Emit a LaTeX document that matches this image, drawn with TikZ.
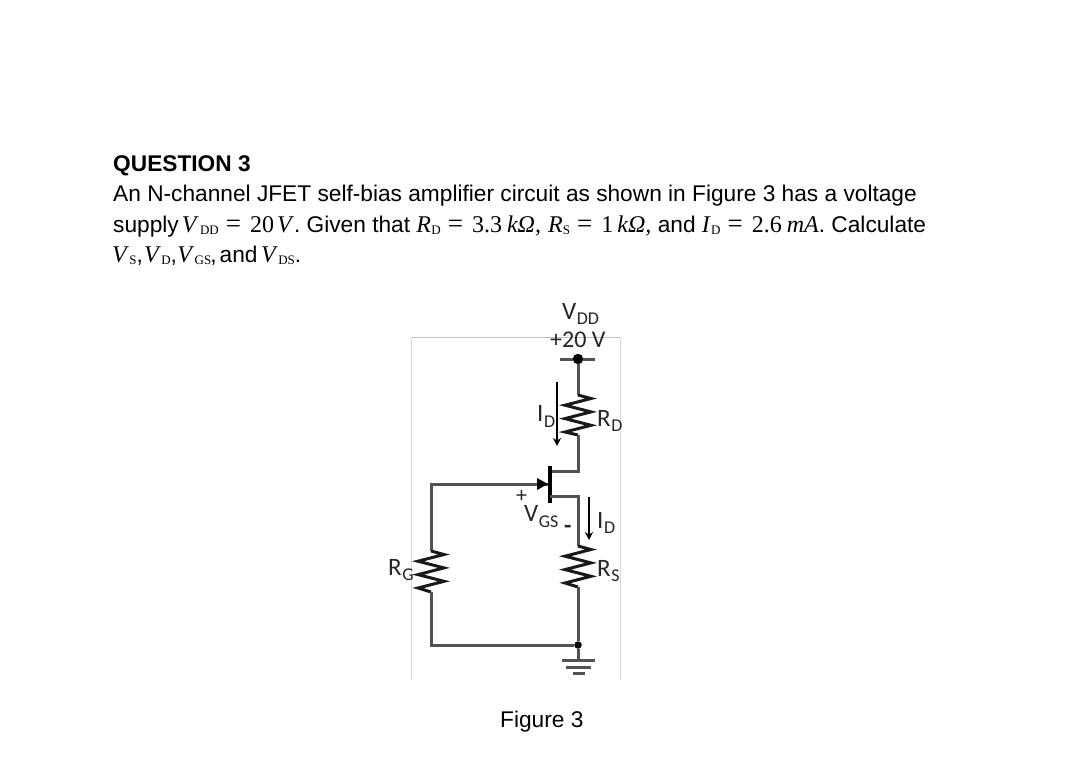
\documentclass[tikz,border=0pt]{standalone}
\usepackage{fontspec}
\setmainfont{Liberation Sans}
\newfontfamily\calfont{Carlito}
\newfontfamily\qfont{Liberation Serif}
\usetikzlibrary{arrows.meta}
\newcommand{\qv}[2]{{\qfont\fontsize{24}{24}\selectfont\textit{#1}\kern0.3pt\lower2.5pt\hbox{\fontsize{13}{13}\selectfont #2}}}
\newcommand{\qn}[1]{{\qfont\fontsize{24}{24}\selectfont #1}}
\newcommand{\qi}[1]{{\qfont\fontsize{24}{24}\selectfont\textit{#1}}}
\newcommand{\qe}{\kern7pt{\qfont\fontsize{27}{27}\selectfont =}\kern9pt}
\newcommand{\lb}[2]{#1\kern0.5pt\lower5.5pt\hbox{\fontsize{18}{18}\selectfont #2}}
\newcommand{\zres}[2]{\draw[zigres] (#1) -- ++(13,3.5) -- ++(-26,6.7) -- ++(26,6.7) -- ++(-26,6.7) -- ++(26,6.7) -- ++(-26,6.7) -- (#2);}
\tikzset{
  qline/.style={anchor=base west,inner sep=0pt,font=\fontsize{22.7}{24}\selectfont},
  lbl/.style={anchor=base west,inner sep=0pt,font=\calfont\fontsize{25}{25}\selectfont,text=black!85},
  wire/.style={draw=black!68,line width=3pt},
  zigres/.style={draw=black!90,line width=3pt,line join=miter},
  frameline/.style={draw=black!15,line width=1pt},
  idarrow/.style={draw=black,line width=2.2pt,-{Stealth[length=8pt,width=8pt]}},
  dotn/.style={circle,fill=black,inner sep=0pt,minimum size=#1}
}
\begin{document}
\begin{tikzpicture}[x=1pt,y=-1pt]
  \useasboundingbox (0,0) rectangle (1080,761);
  \fill[white] (0,0) rectangle (1080,761);

  % question text
  \node[qline,font=\bfseries\fontsize{22.7}{24}\selectfont] (title) at (113,171) {QUESTION 3};
  \node[qline] (line1) at (113,201) {An N-channel JFET self-bias amplifier circuit as shown in Figure 3 has a voltage};
  \node[qline] (line2) at (113,232) {supply\kern3pt\qv{V}{\kern1pt DD}\qe\qn{20}\kern3pt\qi{V}. Given that \qv{R}{D}\qe\qn{3.3}\kern5pt\qi{kΩ,}\kern7pt\qv{R}{S}\qe\qn{1}\kern4pt\qi{kΩ,} and \qv{I}{D}\qe\qn{2.6}\kern5pt\qi{mA}. Calculate};
  \node[qline] (line3) at (112,262) {\qv{V}{S},\kern1pt\qv{V}{D},\kern0.5pt\qv{V}{GS}\kern-1pt,\kern3pt and\kern3.5pt\qv{V}{DS}.};
  \node[qline] (fig) at (500,727) {Figure 3};

  % frame of the picture
  \draw[frameline,draw=black!25] (411,337) -- (620,337);
  \draw[frameline] (411,337) -- (411,680);
  \draw[frameline] (620,337) -- (620,680);

  \coordinate (bar1) at (560,359);
  \coordinate (bar2) at (595,359);
  \node[dotn=10.5pt] (vdd) at (578,359) {};
  \coordinate (rdtop) at (578,395);
  \coordinate (rdbot) at (578,435);
  \coordinate (dr) at (578,471);
  \coordinate (drg) at (550,471);
  \coordinate (gt) at (550,466);
  \coordinate (gb) at (550,503);
  \coordinate (gin) at (548,484);
  \coordinate (gl) at (431,484);
  \coordinate (sr) at (578,496);
  \coordinate (srg) at (550,496);
  \coordinate (rstop) at (578,546);
  \coordinate (rsbot) at (578,587);
  \coordinate (rgtop) at (431,551);
  \coordinate (rgbot) at (431,592);
  \node[dotn=7.5pt] (gnd) at (578,645) {};
  \coordinate (gndl) at (431,645);
  \coordinate (g1) at (578,660);

  \draw[wire] (bar1) -- (vdd);
  \draw[wire] (vdd) -- (bar2);
  \draw[wire] (vdd) -- (rdtop);
  \zres{rdtop}{rdbot}
  \draw[wire] (rdbot) -- (dr) -- (drg);
  \draw[draw=black,line width=3.6pt] (gt) -- (gb);
  \draw[wire] (srg) -- (sr) -- (rstop);
  \zres{rstop}{rsbot}
  \draw[wire] (rsbot) -- (gnd);
  \draw[wire] (gin) -- (gl) -- (rgtop);
  \zres{rgtop}{rgbot}
  \draw[wire] (rgbot) -- (gndl) -- (gnd);
  \draw[wire] (gnd) -- (g1);
  \fill[black] (gin) -- ++(-11,-6) -- ++(0,12) -- cycle;

  % ground bars
  \draw[wire] (562,660) -- (595,660);
  \draw[wire] (566,667) -- (591,667);
  \draw[wire] (573,673) -- (585,673);

  \coordinate (ida) at (557,382);
  \coordinate (idb) at (557,446);
  \coordinate (idc) at (589,497);
  \coordinate (idd) at (589,540);
  \draw[idarrow] (ida) -- (idb);
  \draw[idarrow] (idc) -- (idd);

  \node[lbl] (vddl) at (562,319) {\lb{V}{DD}};
  \node[lbl,font=\calfont\fontsize{24}{24}\selectfont] (vval) at (550,347) {+20 V};
  \node[lbl] (idl1) at (537,421.5) {\lb{I}{D}};
  \node[lbl] (rdl) at (597,426) {\lb{R}{D}};
  \node[lbl,font=\calfont\fontsize{22}{22}\selectfont] (plus) at (516,502) {+};
  \node[lbl] (vgs) at (524,521.5) {\lb{V}{GS}};
  \node[lbl,font=\calfont\bfseries\fontsize{24}{24}\selectfont] (minus) at (564,533) {-};
  \node[lbl] (idl2) at (597,528) {\lb{I}{D}};
  \node[lbl] (rsl) at (597,576) {\lb{R}{S}};
  \node[lbl] (rgl) at (388,575) {\lb{R}{G}};
\end{tikzpicture}
\end{document}
